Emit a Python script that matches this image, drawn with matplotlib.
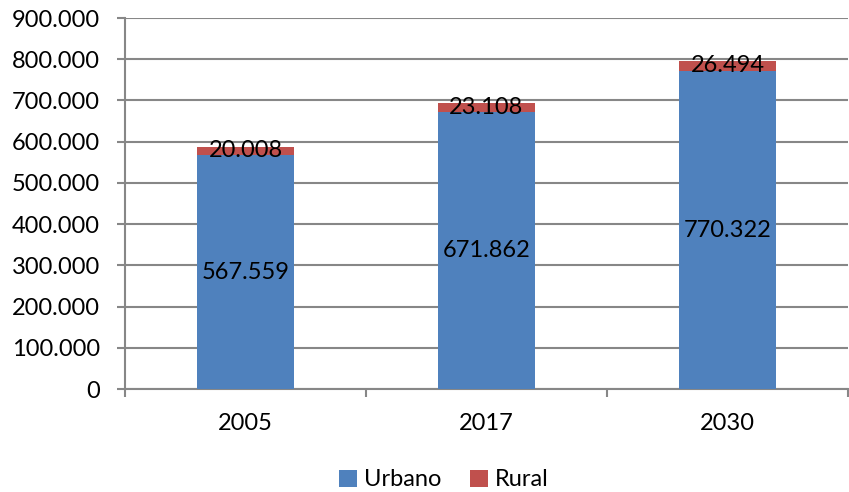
import matplotlib.pyplot as plt
from matplotlib.ticker import FuncFormatter, FixedLocator
import numpy as np

years = ["2005", "2017", "2030"]
urbano = [567559, 671862, 770322]
rural = [20008, 23108, 26494]

BLUE = "#4F81BD"
RED = "#C0504D"
GRID = "#878787"

plt.rcParams["font.family"] = ["Lato", "DejaVu Sans"]
FS = 17

def fmt(v, pos=None):
    return f"{int(v):,}".replace(",", ".")

fig = plt.figure(figsize=(8.49, 4.92), dpi=100)
ax = fig.add_axes([125 / 849, 1 - 389 / 492, 723 / 849, 371 / 492])

x = np.arange(len(years))
w = 0.4
b1 = ax.bar(x, urbano, w, color=BLUE, label="Urbano", zorder=3)
b2 = ax.bar(x, rural, w, bottom=urbano, color=RED, label="Rural", zorder=3)

for xi, u, r in zip(x, urbano, rural):
    ax.text(xi, u / 2, fmt(u), ha="center", va="center", fontsize=FS, zorder=4)
    ax.text(xi, u + r / 2, fmt(r), ha="center", va="center", fontsize=FS, zorder=4)

ax.set_xlim(-0.5, 2.5)
ax.set_ylim(0, 900000)
ax.set_yticks(np.arange(0, 900001, 100000))
ax.yaxis.set_major_formatter(FuncFormatter(fmt))
ax.yaxis.grid(True, color=GRID, linewidth=1.5, zorder=0)

ax.xaxis.set_major_locator(FixedLocator([-0.5, 0.5, 1.5, 2.5]))
ax.xaxis.set_major_formatter(FuncFormatter(lambda v, p: ""))
ax.xaxis.set_minor_locator(FixedLocator(x))
ax.set_xticklabels(years, minor=True)
ax.tick_params(axis="x", which="minor", length=0, pad=17, labelsize=FS)
ax.tick_params(axis="x", which="major", length=6, color=GRID, width=1.5)
ax.tick_params(axis="y", length=6, color=GRID, width=1.5, labelsize=FS, pad=12)

for s in ["top", "right"]:
    ax.spines[s].set_visible(False)
for s in ["left", "bottom"]:
    ax.spines[s].set_color(GRID)
    ax.spines[s].set_linewidth(1.5)

fig.legend(handles=[b1, b2], loc="center", bbox_to_anchor=(444 / 849, 1 - 480 / 492),
           ncol=2, frameon=False, fontsize=FS, handlelength=0.75, handleheight=0.75,
           handletextpad=0.3, columnspacing=1.2, borderpad=0)

fig.savefig("out.png", dpi=100)
